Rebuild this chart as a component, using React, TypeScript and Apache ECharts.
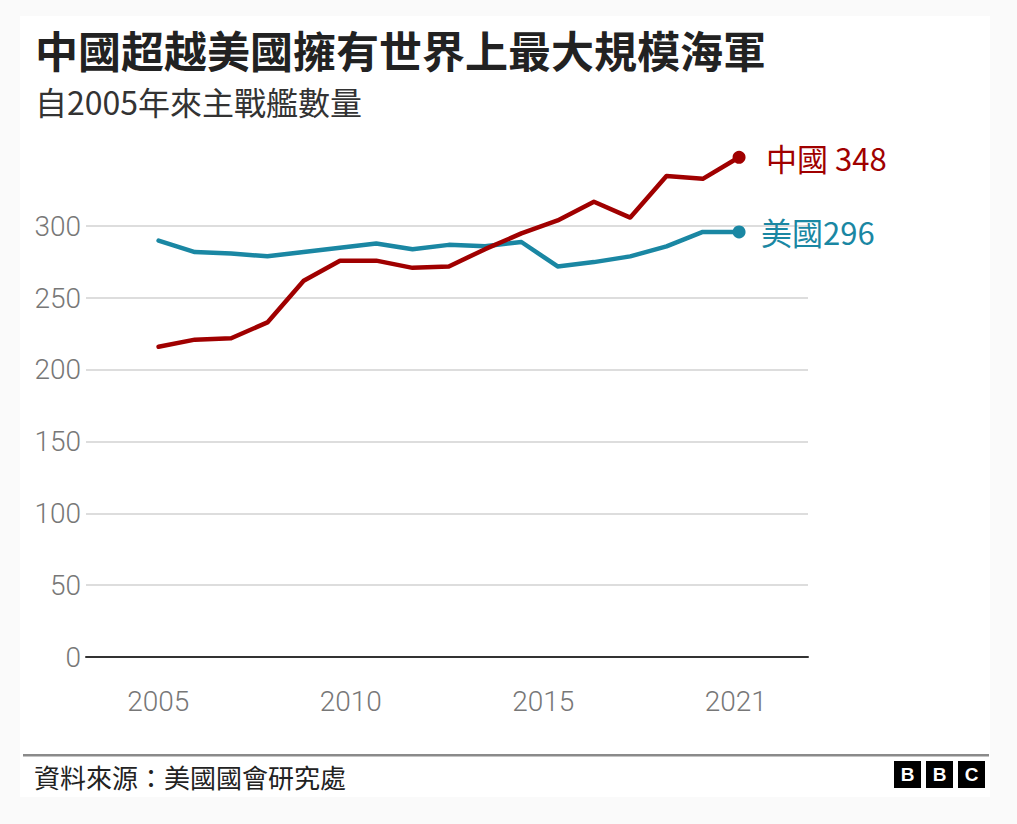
import React, { useEffect, useRef } from "react";
import * as echarts from "echarts";

const years = [2005, 2006, 2007, 2008, 2009, 2010, 2011, 2012, 2013, 2014, 2015, 2016, 2017, 2018, 2019, 2020, 2021];
const china = [216, 221, 222, 233, 262, 276, 276, 271, 272, 284, 295, 304, 317, 306, 335, 333, 348];
const usa = [290, 282, 281, 279, 282, 285, 288, 284, 287, 286, 289, 272, 275, 279, 286, 296, 296];
const xTickLabels = ["2005", "2010", "2015", "2021"];
const yTicks = [0, 50, 100, 150, 200, 250, 300];

const TITLE = "中國超越美國擁有世界上最大規模海軍";
const SUBTITLE = "自2005年來主戰艦數量";
const SOURCE = "資料來源：美國國會研究處";

const RED = "#a00000";
const TEAL = "#1a87a3";
const CJK = "'Noto Sans CJK TC', 'Noto Sans CJK SC', sans-serif";
const NUM = "Roboto, 'Noto Sans', sans-serif";

// label axis: evenly spaced slots, tick labels placed on slots 3, 11, 19, 27
const labelSlots: string[] = Array.from({ length: 31 }, () => "");
xTickLabels.forEach((t, i) => {
  labelSlots[3 + i * 8] = t;
});

export default function App() {
  const ref = useRef<HTMLDivElement>(null);
  useEffect(() => {
    if (!ref.current) return;
    const chart = echarts.init(ref.current, null, { renderer: "svg" });
    const last = years.length - 1;
    const mk = (name: string, vals: number[], color: string, sep: string, dist: number) => ({
      name,
      type: "line",
      xAxisIndex: 0,
      yAxisIndex: 0,
      data: vals.map((v, i) => [years[i], v]),
      symbol: "circle",
      showSymbol: true,
      symbolSize: (_v: any, p: any) => (p.dataIndex === last ? 13 : 0),
      lineStyle: { color, width: 4.5, cap: "round", join: "round" },
      itemStyle: { color },
      emphasis: { disabled: true },
      endLabel: {
        show: true,
        formatter: (p: any) => `${p.seriesName}${sep}${p.value[1]}`,
        color,
        fontSize: 31,
        fontFamily: CJK,
        distance: dist,
      },
      z: name === "中國" ? 4 : 3,
    });
    chart.setOption({
      animation: false,
      backgroundColor: "#fafafa",
      grid: { left: 86, right: 209, top: 154.4, bottom: 167, containLabel: false },
      xAxis: [
        {
          type: "value",
          min: 2003,
          max: 2022.9,
          axisLine: { show: true, onZero: false, lineStyle: { color: "#333", width: 2 } },
          axisTick: { show: false },
          axisLabel: { show: false },
          splitLine: { show: false },
        },
        {
          type: "category",
          data: labelSlots,
          boundaryGap: false,
          position: "bottom",
          axisLine: { show: false },
          axisTick: { show: false },
          splitLine: { show: false },
          axisLabel: {
            interval: 0,
            margin: 30,
            color: "#777",
            fontSize: 28,
            fontFamily: NUM,
            fontWeight: 300,
          },
        },
      ],
      yAxis: {
        type: "value",
        min: yTicks[0],
        max: 350,
        interval: 50,
        axisLine: { show: false },
        axisTick: { show: false },
        axisLabel: {
          color: "#777",
          fontSize: 28,
          fontFamily: NUM,
          fontWeight: 300,
          margin: 5,
          showMaxLabel: false,
        },
        splitLine: { show: true, showMaxLine: false, lineStyle: { color: "#d2d2d2", width: 1.5 } },
      },
      series: [mk("美國", usa, TEAL, "", 22), mk("中國", china, RED, " ", 27)],
      graphic: [
        { type: "rect", z: -10, shape: { x: 20, y: 16, width: 970, height: 781 }, style: { fill: "#ffffff" }, silent: true },
        {
          type: "text",
          x: 35,
          y: 27,
          style: { text: TITLE, fontSize: 43, lineHeight: 44, fontWeight: "bold", fontFamily: CJK, fill: "#222", verticalAlign: "top" },
        },
        {
          type: "text",
          x: 35,
          y: 84,
          style: { text: SUBTITLE, fontSize: 32, lineHeight: 34, fontFamily: CJK, fill: "#333", verticalAlign: "top" },
        },
        {
          type: "rect",
          shape: { x: 23, y: 754, width: 966, height: 2.5 },
          style: { fill: "#8a8a8a" },
        },
        {
          type: "text",
          x: 34,
          y: 762,
          style: { text: SOURCE, fontSize: 26, lineHeight: 28, fontFamily: CJK, fill: "#222", verticalAlign: "top" },
        },
        ...["B", "B", "C"].flatMap((ch, i) => [
          {
            type: "rect",
            shape: { x: 894 + i * 32, y: 761, width: 27, height: 27 },
            style: { fill: "#000" },
          },
          {
            type: "text",
            x: 894 + i * 32 + 13.5,
            y: 774.5,
            style: {
              text: ch,
              fontSize: 19,
              fontWeight: "bold",
              fontFamily: "'Liberation Sans', Arial, sans-serif",
              fill: "#fff",
              align: "center",
              verticalAlign: "middle",
            },
          },
        ]),
      ],
    });
    return () => chart.dispose();
  }, []);
  return (
    <div
      ref={ref}
      style={{ position: "fixed", left: 0, top: 0, width: 1017, height: 824 }}
    />
  );
}
